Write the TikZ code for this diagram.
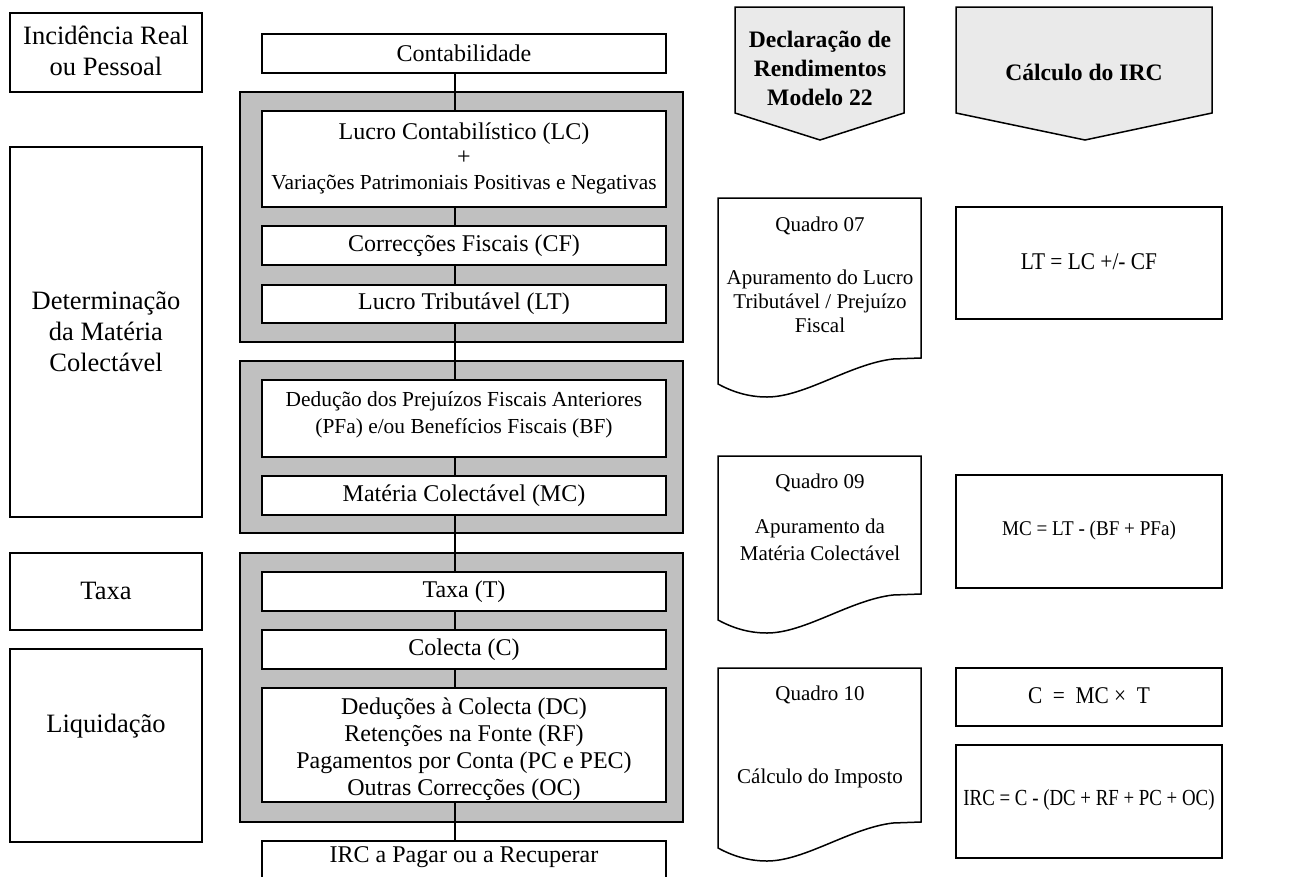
\documentclass[tikz,border=0pt]{standalone}
\usepackage{graphicx}
\usepackage{fontspec}
\setmainfont{Liberation Serif}
\definecolor{grp}{RGB}{192,192,192}
\definecolor{hdr}{RGB}{234,234,234}
\tikzset{
  frame/.style={draw, line width=1.5pt, fill=white, inner sep=0pt},
  panel/.style={draw, line width=1.5pt, fill=grp},
  headshape/.style={draw, line width=1.5pt, fill=hdr},
  docshp/.style={draw, line width=1.5pt, fill=white},
  lbl/.style={align=center, inner sep=0pt},
  link/.style={line width=1.5pt},
}
\newcommand\fs[2]{\fontsize{#1}{#2}\selectfont}
% narrow set formula text: #1 = horizontal factor, #2 = text
\newcommand\narrow[2]{\scalebox{#1}[1]{#2}}
% document (wavy-bottom) outline: #1 = top edge, #2 = bottom of right side
\newcommand\docpath[2]{%
  \path[docshp] (718,#1) -- (921,#1) -- (921,#2) -- (893,{#2+1})
    .. controls (850,{#2+6}) and (805,{#2+39}) .. (767,{#2+39})
    .. controls (747,{#2+39}) and (731,{#2+33}) .. (718,{#2+26}) -- cycle;}
\begin{document}
\begin{tikzpicture}[x=1pt,y=-1pt]
\useasboundingbox (0,0) rectangle (1292,876);
\clip (0,0) rectangle (1292,876);

% ---------- left column: stages ----------
\node[frame, minimum width=192pt, minimum height=79pt]  (inc)  at (106,52.5) {};
\node[lbl, font=\fs{26.5}{31}] (incT) at (106,51) {Incidência Real\\ou Pessoal};
\node[frame, minimum width=192pt, minimum height=370pt] (det)  at (106,332) {};
\node[lbl, font=\fs{26.5}{31}] (detT) at (106,332) {Determinação\\da Matéria\\Colectável};
\node[frame, minimum width=192pt, minimum height=77pt]  (tax)  at (106,591.5) {};
\node[lbl, font=\fs{26.5}{31}] (taxT) at (106,591) {Taxa};
\node[frame, minimum width=192pt, minimum height=193pt] (liq)  at (106,745.5) {};
\node[lbl, font=\fs{26.5}{31}] (liqT) at (106,726) {Liquidação};

% ---------- centre column: grouped panels ----------
\node[panel, minimum width=443pt, minimum height=250pt] (g1) at (461.5,217) {};
\node[panel, minimum width=443pt, minimum height=172pt] (g2) at (461.5,447) {};
\node[panel, minimum width=443pt, minimum height=269pt] (g3) at (461.5,687.5) {};

\coordinate (spine) at (455,0);

\node[frame, minimum width=404pt, minimum height=39pt] (cont) at (464,53.5) {};
\node[lbl, font=\fs{24}{27}] (contT) at (464,53.5) {Contabilidade};
\node[frame, minimum width=404pt, minimum height=96pt] (lc) at (464,159) {};
\node[lbl, font=\fs{24}{25}] (lcT) at (464,158)
  {Lucro Contabilístico (LC)\\+\\{\fs{21.4}{25}Variações Patrimoniais Positivas e Negativas}};
\node[frame, minimum width=404pt, minimum height=39pt] (cf) at (464,245.5) {};
\node[lbl, font=\fs{24}{27}] (cfT) at (464,245.5) {Correcções Fiscais (CF)};
\node[frame, minimum width=404pt, minimum height=38pt] (lt) at (464,304) {};
\node[lbl, font=\fs{24}{27}] (ltT) at (464,304) {Lucro Tributável (LT)};

\node[frame, minimum width=404pt, minimum height=77pt] (ded) at (464,418.5) {};
\node[lbl, font=\fs{21.4}{27}] (dedT) at (464,415)
  {Dedução dos Prejuízos Fiscais Anteriores\\(PFa) e/ou Benefícios Fiscais (BF)};
\node[frame, minimum width=404pt, minimum height=39pt] (mc) at (464,495.5) {};
\node[lbl, font=\fs{24}{27}] (mcT) at (464,495.5) {Matéria Colectável (MC)};

\node[frame, minimum width=404pt, minimum height=39pt] (tx) at (464,591.5) {};
\node[lbl, font=\fs{24}{27}] (txT) at (464,591.5) {Taxa (T)};
\node[frame, minimum width=404pt, minimum height=39pt] (col) at (464,649.5) {};
\node[lbl, font=\fs{24}{27}] (colT) at (464,649.5) {Colecta (C)};
\node[frame, minimum width=404pt, minimum height=114pt] (dc) at (464,745) {};
\node[lbl, font=\fs{24}{27}] (dcT) at (464,749)
  {Deduções à Colecta (DC)\\Retenções na Fonte (RF)\\Pagamentos por Conta (PC e PEC)\\Outras Correcções (OC)};
\node[frame, minimum width=404pt, minimum height=49pt] (irc) at (464,865.5) {};
\node[lbl, font=\fs{24}{27}] (ircT) at (464,857) {IRC a Pagar ou a Recuperar};

% vertical flow line
\draw[link] (cont.south -| spine) -- (lc.north -| spine);
\draw[link] (lc.south -| spine) -- (cf.north -| spine);
\draw[link] (cf.south -| spine) -- (lt.north -| spine);
\draw[link] (lt.south -| spine) -- (ded.north -| spine);
\draw[link] (ded.south -| spine) -- (mc.north -| spine);
\draw[link] (mc.south -| spine) -- (tx.north -| spine);
\draw[link] (tx.south -| spine) -- (col.north -| spine);
\draw[link] (col.south -| spine) -- (dc.north -| spine);
\draw[link] (dc.south -| spine) -- (irc.north -| spine);

% ---------- headers ----------
\path[headshape] (735,7) -- (904,7) -- (904,113) -- (820,140) -- (735,113) -- cycle;
\node[lbl, font=\fs{23.6}{29}\bfseries] (h1) at (820,68)
  {Declaração de\\Rendimentos\\Modelo 22};
\path[headshape] (956,7) -- (1212,7) -- (1212,113) -- (1085,140) -- (956,113) -- cycle;
\node[lbl, font=\fs{23.6}{29}\bfseries] (h2) at (1084,72) {Cálculo do IRC};

% ---------- tax return sections ----------
\docpath{198}{358}
\node[lbl, font=\fs{21}{25}] (q07) at (820,226) {Quadro 07};
\node[lbl, font=\fs{21}{24}] (q07T) at (820,301)
  {Apuramento do Lucro\\Tributável / Prejuízo\\Fiscal};
\docpath{456}{594}
\node[lbl, font=\fs{21}{25}] (q09) at (820,483) {Quadro 09};
\node[lbl, font=\fs{21}{27}] (q09T) at (820,540)
  {Apuramento da\\Matéria Colectável};
\docpath{668}{822}
\node[lbl, font=\fs{21}{25}] (q10) at (820,695) {Quadro 10};
\node[lbl, font=\fs{21}{25}] (q10T) at (820,778) {Cálculo do Imposto};

% ---------- formulas ----------
\node[frame, minimum width=266pt, minimum height=112pt] (f1) at (1089,263) {};
\node[lbl, font=\fs{24}{28}] (f1T) at (1089,262) {\narrow{0.89}{LT = LC +/- CF}};
\node[frame, minimum width=266pt, minimum height=113pt] (f2) at (1089,531.5) {};
\node[lbl, font=\fs{21}{25}] (f2T) at (1089,530) {\narrow{0.91}{MC = LT - (BF + PFa)}};
\node[frame, minimum width=266pt, minimum height=58pt] (f3) at (1089,697) {};
\node[lbl, font=\fs{24}{28}] (f3T) at (1089,696) {\narrow{0.89}{C\ \ =\ \ MC × \ T}};
\node[frame, minimum width=266pt, minimum height=113pt] (f4) at (1089,801.5) {};
\node[lbl, font=\fs{23}{27}] (f4T) at (1089,800) {\narrow{0.82}{IRC = C - (DC + RF + PC + OC)}};
\end{tikzpicture}
\end{document}
